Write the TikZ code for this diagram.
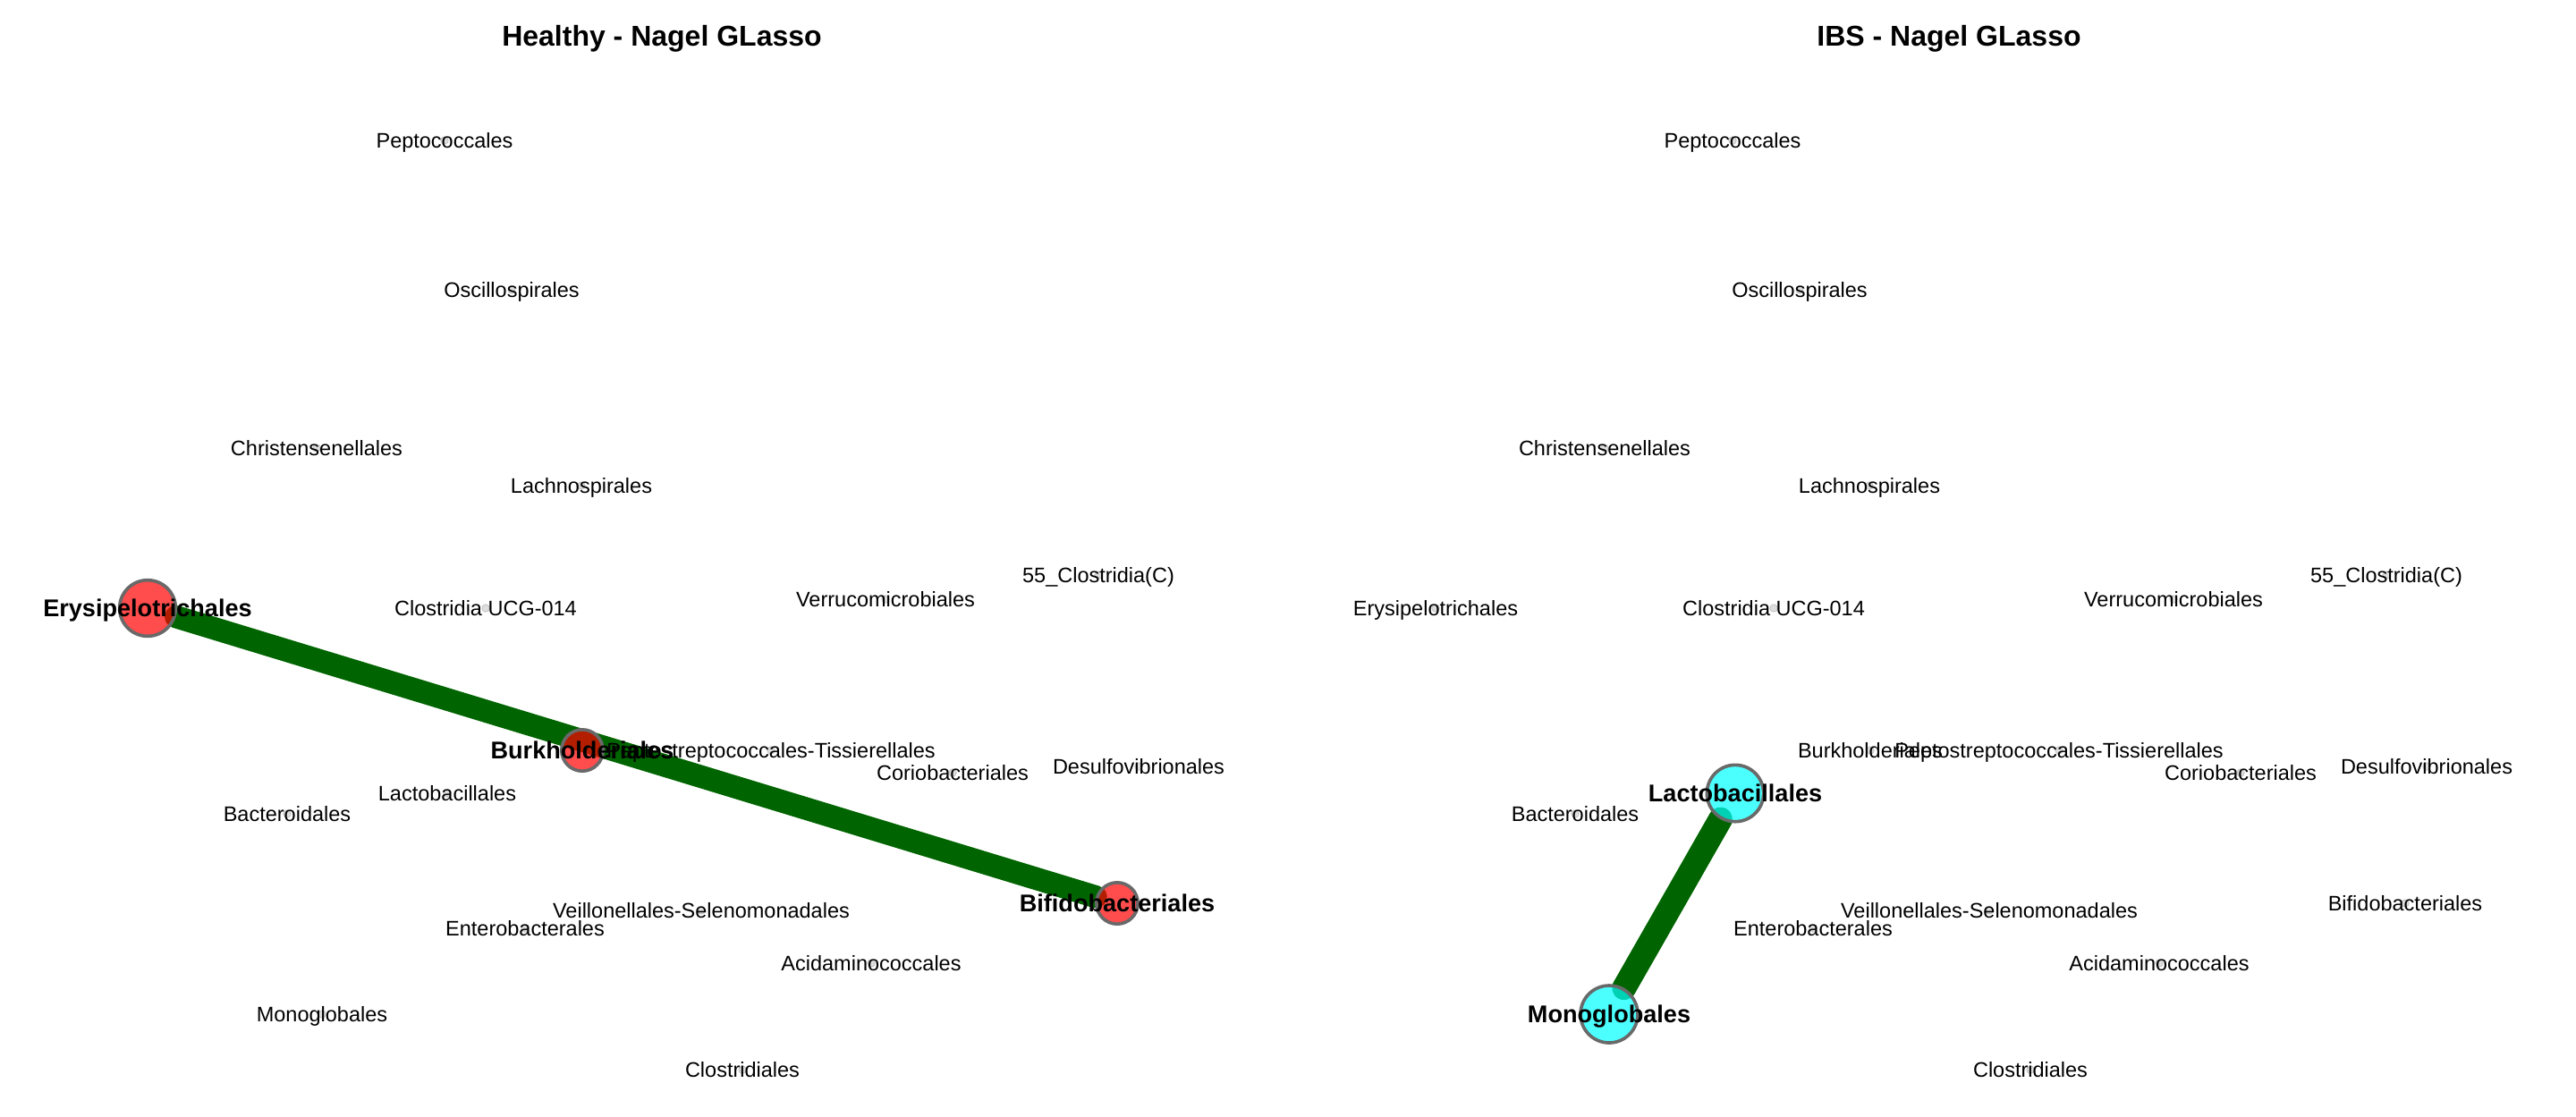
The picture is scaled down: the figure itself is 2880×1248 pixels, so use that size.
\documentclass[tikz,border=0pt]{standalone}
\usepackage{fontspec}
\setmainfont{Liberation Sans}
\usetikzlibrary{backgrounds}
\definecolor{edgegreen}{RGB}{0,100,0}
\definecolor{nodeborder}{RGB}{105,105,105}
\definecolor{nodered}{RGB}{255,0,0}
\definecolor{nodecyan}{RGB}{0,255,255}
\definecolor{dotfill}{RGB}{222,222,222}
\definecolor{dotdraw}{RGB}{200,200,200}
\def\commonlist{pep/497/157/Peptococcales,osc/572/324/Oscillospirales,chr/354/501/Christensenellales,lac/650/543/Lachnospirales,cuc/543/680/Clostridia UCG-014,ver/990/670/Verrucomicrobiales,ccc/1228/643/55\_Clostridia(C),pts/862/839/Peptostreptococcales-Tissierellales,cor/1065/864/Coriobacteriales,des/1273/857/Desulfovibrionales,bac/321/910/Bacteroidales,vei/784/1018/Veillonellales-Selenomonadales,ent/587/1038/Enterobacterales,aci/974/1077/Acidaminococcales,clo/830/1196/Clostridiales}
\def\leftextra{lbc/500/887/Lactobacillales,mon/360/1134/Monoglobales}
\def\rightextra{ery/165/680/Erysipelotrichales,bur/651/839/Burkholderiales,bif/1249/1010/Bifidobacteriales}
\begin{document}
\begin{tikzpicture}[x=0.3pt,y=-0.3pt,
  lab/.style={font=\fontsize{7.05}{8}\selectfont, inner sep=0pt, text height=5.05pt, text depth=0pt, anchor=center},
  blab/.style={font=\bfseries\fontsize{8.13}{9}\selectfont, inner sep=0pt, text height=5.82pt, text depth=0pt, anchor=center},
  ttl/.style={font=\bfseries\fontsize{9.6}{11}\selectfont, inner sep=0pt, text height=6.87pt, text depth=0pt, anchor=center},
  dotnode/.style={circle, inner sep=0pt, minimum size=2.5pt, fill=dotfill, draw=dotdraw, line width=0.3pt},
  rednode/.style={circle, inner sep=0pt, fill=nodered, fill opacity=0.7, draw=nodeborder, draw opacity=1, line width=1.1pt},
  cyannode/.style={circle, inner sep=0pt, fill=nodecyan, fill opacity=0.7, draw=nodeborder, draw opacity=1, line width=1.1pt},
  edgeline/.style={draw=edgegreen, line cap=round}]
\useasboundingbox (0,0) rectangle (2880,1248);
% titles
\node[ttl] (titleL) at (740,40) {Healthy - Nagel GLasso};
\node[ttl] (titleR) at (2179,40) {IBS - Nagel GLasso};
% small dots for plain nodes
\foreach \n/\x/\y/\t in \commonlist {
  \node[dotnode] (\n-Ld) at (\x,\y) {};
  \node[dotnode] (\n-Rd) at (\x+1440,\y) {};
}
\foreach \n/\x/\y/\t in \leftextra {
  \node[dotnode] (\n-Ld) at (\x,\y) {};
}
\foreach \n/\x/\y/\t in \rightextra {
  \node[dotnode] (\n-Rd) at (\x+1440,\y) {};
}
% highlighted nodes, left panel
\node[rednode, minimum size=18.8pt] (eryL) at (165,680) {};
\node[rednode, minimum size=13.9pt] (burL) at (651,839) {};
\node[rednode, minimum size=13.9pt] (bifL) at (1249,1010) {};
% highlighted nodes, right panel
\node[cyannode, minimum size=19.0pt] (lbcR) at (1940,887) {};
\node[cyannode, minimum size=19.2pt] (monR) at (1799,1134) {};
% edges below nodes
\begin{scope}[on background layer]
\draw[edgeline, line width=7.6pt] (eryL) -- (bifL);
\draw[edgeline, line width=8.1pt] (lbcR) -- (monR);
\end{scope}
% plain labels
\foreach \n/\x/\y/\t in \commonlist {
  \node[lab] (\n-L) at (\x,\y) {\t};
  \node[lab] (\n-R) at (\x+1440,\y) {\t};
}
\foreach \n/\x/\y/\t in \leftextra {
  \node[lab] (\n-L) at (\x,\y) {\t};
}
\foreach \n/\x/\y/\t in \rightextra {
  \node[lab] (\n-R) at (\x+1440,\y) {\t};
}
% bold labels
\node[blab] (eryLt) at (165,680) {Erysipelotrichales};
\node[blab] (burLt) at (651,839) {Burkholderiales};
\node[blab] (bifLt) at (1249,1010) {Bifidobacteriales};
\node[blab] (lbcRt) at (1940,887) {Lactobacillales};
\node[blab] (monRt) at (1799,1134) {Monoglobales};
\end{tikzpicture}
\end{document}
